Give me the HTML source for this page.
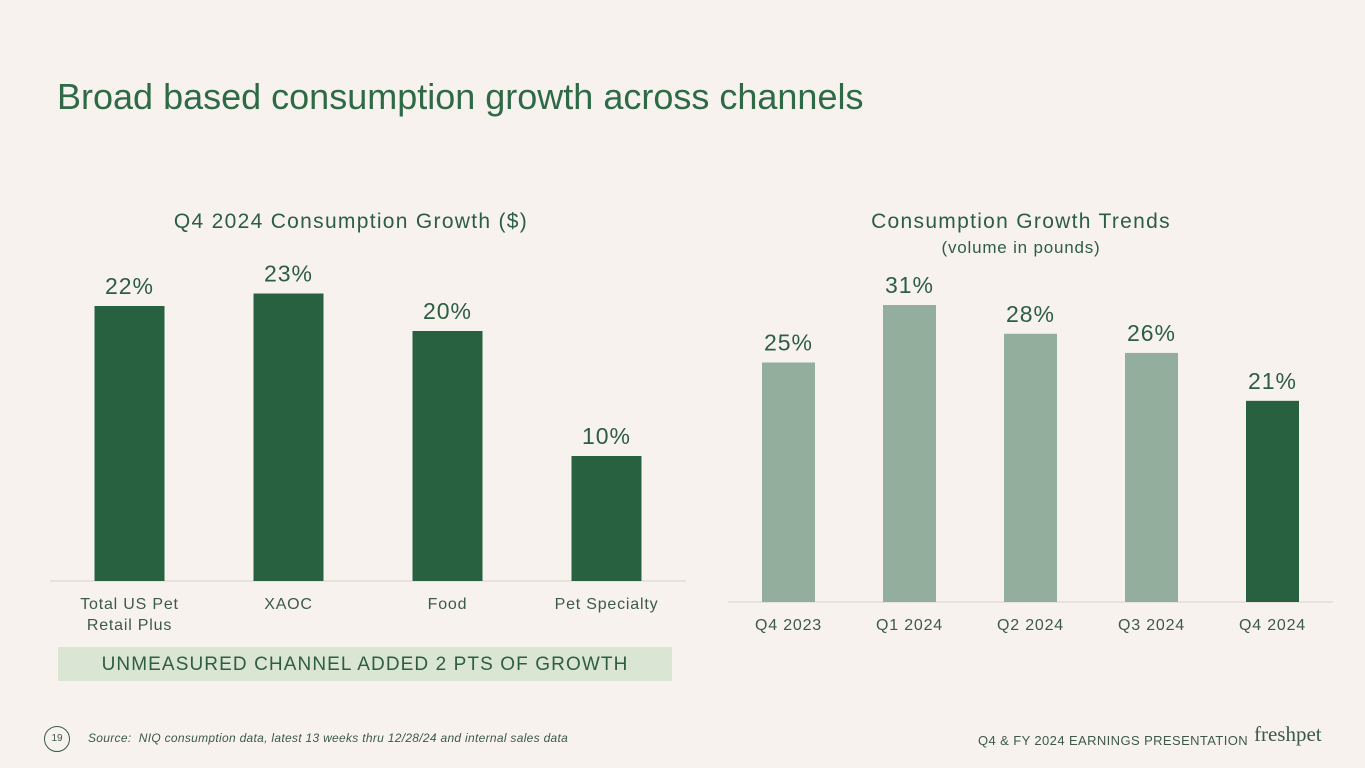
<!DOCTYPE html>
<html><head><meta charset="utf-8"><style>
body{margin:0;width:1365px;height:768px;background:#f7f2ee;font-family:"Liberation Sans",sans-serif;overflow:hidden;position:relative}
.abs{position:absolute}
</style></head><body>
<div class="abs" style="left:57px;top:76px;font-size:36px;color:#2d6a45;white-space:nowrap">Broad based consumption growth across channels</div>
<svg class="abs" style="left:0;top:0" width="1365" height="768" id="charts"></svg>
<div class="abs" style="left:58px;top:647px;width:614px;height:34px;background:#dbe5d3;color:#2d5e42;font-size:19px;letter-spacing:1.1px;line-height:35px;text-align:center">UNMEASURED CHANNEL ADDED 2 PTS OF GROWTH</div>
<div class="abs" style="left:44px;top:726px;width:24px;height:24px;border:1.5px solid #3d5a48;border-radius:50%;font-size:10px;color:#3d5a48;text-align:center;line-height:24px">19</div>
<div class="abs" style="left:88px;top:731px;font-size:12px;font-style:italic;color:#3d5a48;white-space:nowrap;letter-spacing:0.3px">Source:&nbsp; NIQ consumption data, latest 13 weeks thru 12/28/24 and internal sales data</div>
<div class="abs" style="left:978px;top:733px;font-size:13px;color:#3d5a48;white-space:nowrap;letter-spacing:0.4px">Q4 &amp; FY 2024 EARNINGS PRESENTATION</div>
<div class="abs" style="left:1254px;top:722px;font-size:21px;font-family:'Liberation Serif',serif;color:#3d5a48">freshpet</div>
<script>
const leftCats=["Total US Pet|Retail Plus","XAOC","Food","Pet Specialty"];
const leftVals=[22,23,20,10];
const leftLabels=["22%","23%","20%","10%"];
const rightCats=["Q4 2023","Q1 2024","Q2 2024","Q3 2024","Q4 2024"];
const rightVals=[25,31,28,26,21];
const rightLabels=["25%","31%","28%","26%","21%"];
const svg=document.getElementById('charts');
const NS='http://www.w3.org/2000/svg';
function mk(t,a){const e=document.createElementNS(NS,t);for(const k in a)e.setAttribute(k,a[k]);svg.appendChild(e);return e;}
function txt(x,y,s,size,fill,name,ls){const t=mk('text',{x:x,y:y,'font-size':size,fill:fill,'text-anchor':'middle','font-family':'Liberation Sans, sans-serif','letter-spacing':ls||0});t.textContent=s;

return t;}
function chart(o){
  const l=mk('line',{x1:o.x0,x2:o.x1,y1:o.base,y2:o.base,stroke:'#e2dcd6','stroke-width':1.5});
  
  
  const step=(o.x1-o.x0)/o.cats.length;
  o.vals.forEach((v,i)=>{
    const cx=o.x0+step*(i+0.5), h=v*o.scale;
    const r=mk('rect',{x:cx-o.bw/2,y:o.base-h,width:o.bw,height:h,fill:o.color(i)});
    
    
    txt(cx,o.base-h-12,o.labels[i],23,'#2d5e42',o.id+'-value-'+i,1);
    o.cats[i].split('|').forEach((s,j)=>txt(cx,o.base+28+j*21,s,16,'#3d5a48',o.id+'-category-'+i,0.8));
  });
}
chart({id:'channel',x0:50,x1:686,base:581,scale:12.5,bw:70,cats:leftCats,vals:leftVals,labels:leftLabels,color:()=> '#276140'});
chart({id:'trend',x0:728,x1:1333,base:602,scale:9.58,bw:53,cats:rightCats,vals:rightVals,labels:rightLabels,color:i=>i===rightVals.length-1?'#276140':'#94ae9e'});
txt(351,228,'Q4 2024 Consumption Growth ($)',21,'#2d5e42','left-chart-title',1.3);
txt(1021,228,'Consumption Growth Trends',21,'#2d5e42','right-chart-title',1.3);
txt(1021,253,'(volume in pounds)',17,'#2d5e42','right-chart-subtitle',0.8);
</script>
</body></html>
